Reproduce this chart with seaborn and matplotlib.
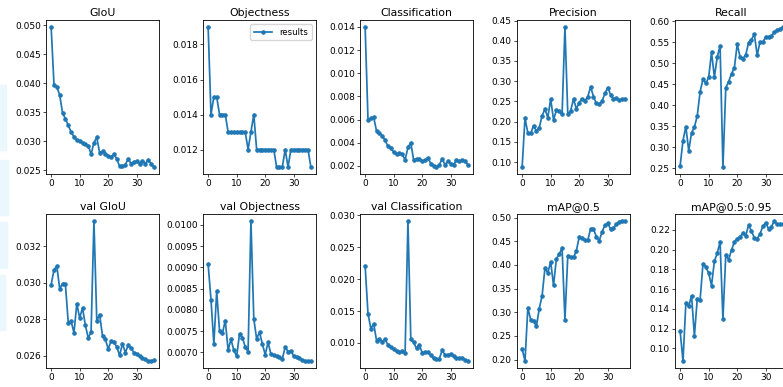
import numpy as np
import pandas as pd
import matplotlib
matplotlib.use("Agg")
import matplotlib.pyplot as plt
import seaborn as sns

epochs = list(range(37))

giou = [0.0497, 0.0398, 0.0394, 0.0380, 0.0349, 0.0339, 0.0328, 0.0316, 0.0308, 0.0302,
        0.0300, 0.0298, 0.0296, 0.0293, 0.0278, 0.0298, 0.0307, 0.0280, 0.0283, 0.0279,
        0.0275, 0.0273, 0.0278, 0.0270, 0.0257, 0.0257, 0.0260, 0.0270, 0.0262, 0.0265,
        0.0266, 0.0262, 0.0267, 0.0262, 0.0268, 0.0262, 0.0256]
objectness = [0.019, 0.014, 0.015, 0.015, 0.014, 0.014, 0.014, 0.013, 0.013, 0.013,
              0.013, 0.013, 0.013, 0.013, 0.012, 0.013, 0.014, 0.012, 0.012, 0.012,
              0.012, 0.012, 0.012, 0.012, 0.011, 0.011, 0.011, 0.012, 0.011, 0.012,
              0.012, 0.012, 0.012, 0.012, 0.012, 0.012, 0.011]
classification = [0.0140, 0.0060, 0.0061, 0.0062, 0.0050, 0.0048, 0.0046, 0.0042, 0.0037, 0.0035,
                  0.0032, 0.0030, 0.0031, 0.0030, 0.0025, 0.0036, 0.0040, 0.0025, 0.0026, 0.0026,
                  0.0024, 0.0025, 0.0027, 0.0022, 0.0020, 0.0019, 0.0021, 0.0026, 0.0021, 0.0024,
                  0.0022, 0.0021, 0.0025, 0.0024, 0.0025, 0.0024, 0.0021]
precision = [0.088, 0.209, 0.172, 0.171, 0.190, 0.177, 0.185, 0.215, 0.231, 0.210,
             0.256, 0.205, 0.228, 0.226, 0.218, 0.434, 0.218, 0.227, 0.256, 0.232,
             0.247, 0.257, 0.251, 0.262, 0.286, 0.262, 0.245, 0.243, 0.250, 0.270,
             0.284, 0.267, 0.256, 0.258, 0.253, 0.255, 0.257]
recall = [0.256, 0.316, 0.349, 0.292, 0.334, 0.348, 0.375, 0.432, 0.462, 0.452,
          0.466, 0.526, 0.467, 0.515, 0.541, 0.253, 0.442, 0.456, 0.475, 0.489,
          0.545, 0.515, 0.511, 0.520, 0.549, 0.556, 0.569, 0.519, 0.551, 0.550,
          0.563, 0.563, 0.564, 0.574, 0.579, 0.581, 0.586]
val_giou = [0.02988, 0.0307, 0.0309, 0.02966, 0.02995, 0.0299, 0.02781, 0.02788, 0.02726, 0.02885,
            0.02806, 0.02862, 0.02766, 0.02697, 0.0273, 0.03337, 0.0279, 0.02825, 0.02708, 0.0269,
            0.02637, 0.02679, 0.02675, 0.02648, 0.02602, 0.02666, 0.02617, 0.02657, 0.02642, 0.02617,
            0.02611, 0.02598, 0.02587, 0.0258, 0.02573, 0.02571, 0.02574]
val_objectness = [0.00907, 0.00824, 0.00720, 0.00844, 0.00750, 0.00745, 0.00775, 0.00706, 0.00731, 0.00705,
                  0.00691, 0.00744, 0.00735, 0.00713, 0.00702, 0.01009, 0.00779, 0.00732, 0.00748, 0.00720,
                  0.00695, 0.00724, 0.00696, 0.00694, 0.00692, 0.00689, 0.00685, 0.00713, 0.00702, 0.00704,
                  0.00691, 0.00690, 0.00687, 0.00683, 0.00680, 0.00680, 0.00680]
val_classification = [0.02206, 0.0146, 0.01225, 0.0130, 0.01037, 0.01068, 0.01016, 0.01057, 0.00969, 0.00937,
                      0.00901, 0.0087, 0.00854, 0.0087, 0.00838, 0.0291, 0.01068, 0.0101, 0.00916, 0.00974,
                      0.00843, 0.00859, 0.00854, 0.00812, 0.0076, 0.00744, 0.00755, 0.00885, 0.00812, 0.00817,
                      0.00822, 0.00791, 0.0076, 0.0077, 0.0077, 0.00739, 0.00718]
map50 = [0.2225, 0.197, 0.309, 0.2845, 0.282, 0.270, 0.308, 0.335, 0.394, 0.383,
         0.407, 0.357, 0.413, 0.423, 0.436, 0.2845, 0.420, 0.417, 0.416, 0.430,
         0.459, 0.456, 0.453, 0.452, 0.477, 0.476, 0.460, 0.451, 0.470, 0.484,
         0.488, 0.476, 0.478, 0.4866, 0.4915, 0.493, 0.492]
map5095 = [0.1175, 0.0872, 0.1455, 0.1428, 0.1533, 0.1125, 0.1502, 0.1492, 0.1856, 0.1829,
           0.1762, 0.1637, 0.1883, 0.1964, 0.2079, 0.1296, 0.1951, 0.1897, 0.1998, 0.2075,
           0.2112, 0.2133, 0.2166, 0.2143, 0.2251, 0.2187, 0.2122, 0.2112, 0.2160, 0.2240,
           0.2274, 0.2210, 0.2234, 0.2291, 0.2257, 0.2257, 0.2260]

titles = ["GIoU", "Objectness", "Classification", "Precision", "Recall",
          "val GIoU", "val Objectness", "val Classification", "mAP@0.5", "mAP@0.5:0.95"]
series = [giou, objectness, classification, precision, recall,
          val_giou, val_objectness, val_classification, map50, map5095]

W, H = 783, 387
fig = plt.figure(figsize=(W / 100, H / 100), dpi=100)
fig.patch.set_facecolor("white")

# faint watermark strips on the left edge
for (x0, x1, y0, y1) in [(0, 6, 85, 150), (0, 8, 160, 215), (0, 7, 222, 268), (0, 5, 275, 330)]:
    fig.patches.append(plt.Rectangle((x0 / W, 1 - y1 / H), (x1 - x0) / W, (y1 - y0) / H,
                                     transform=fig.transFigure, color="#eaf8fd", zorder=0))

lefts = [46, 203, 360, 517, 675]
tops = [20, 214]
aw, ah = 113, 154
color = "#1f77b4"

for i, (title, vals) in enumerate(zip(titles, series)):
    r, c = divmod(i, 5)
    ax = fig.add_axes([lefts[c] / W, 1 - (tops[r] + ah) / H, aw / W, ah / H])
    df = pd.DataFrame({"epoch": epochs, "value": vals})
    sns.lineplot(data=df, x="epoch", y="value", ax=ax, color=color, marker=".",
                 markersize=5, linewidth=1.25, markeredgecolor=color,
                 label="results" if i == 1 else None, legend=(i == 1))
    ax.set_title(title, fontsize=7.8, pad=3)
    ax.set_xlabel("")
    ax.set_ylabel("")
    ax.set_xticks([0, 10, 20, 30])
    ax.tick_params(labelsize=6.5, length=2.2, width=0.5, pad=1.5)
    for s in ax.spines.values():
        s.set_linewidth(0.6)
    if i == 1:
        ax.legend(loc="upper right", fontsize=6.2, handlelength=2.2, borderpad=0.4,
                  frameon=True, framealpha=0.8)

fig.savefig("out.png", dpi=100)
